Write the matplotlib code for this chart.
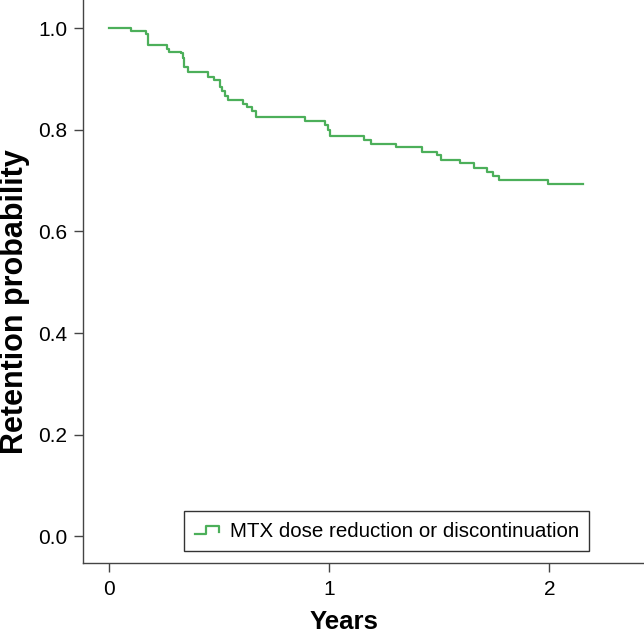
import matplotlib
matplotlib.use("Agg")
import matplotlib.pyplot as plt
from matplotlib.lines import Line2D
from matplotlib.legend_handler import HandlerBase

plt.rcParams['font.family'] = ['Liberation Sans', 'DejaVu Sans']

# Kaplan-Meier step data (years, retention probability)
times = [0.0, 0.099, 0.165, 0.173, 0.261, 0.271, 0.326, 0.334, 0.341, 0.359,
         0.450, 0.476, 0.503, 0.511, 0.526, 0.541, 0.606, 0.625, 0.650, 0.665,
         0.890, 0.980, 0.995, 1.003, 1.155, 1.188, 1.302, 1.419, 1.490, 1.506,
         1.594, 1.655, 1.715, 1.743, 1.770, 1.993, 2.152]
surv = [1.000, 0.995, 0.990, 0.967, 0.959, 0.954, 0.951, 0.941, 0.925, 0.914,
        0.905, 0.899, 0.885, 0.876, 0.866, 0.859, 0.851, 0.845, 0.838, 0.826,
        0.817, 0.810, 0.800, 0.789, 0.780, 0.773, 0.766, 0.757, 0.751, 0.741,
        0.734, 0.726, 0.717, 0.709, 0.701, 0.694, 0.694]
label = "MTX dose reduction or discontinuation"
green = '#4caf5a'


class StepHandler(HandlerBase):
    # small step-shaped legend icon
    def create_artists(self, legend, orig_handle, xdescent, ydescent,
                       width, height, fontsize, trans):
        x0 = -xdescent
        y0 = -ydescent
        xs = [x0, x0 + 0.45 * width, x0 + 0.45 * width, x0 + width, x0 + width]
        ys = [y0 + 0.2 * height, y0 + 0.2 * height, y0 + 0.75 * height,
              y0 + 0.75 * height, y0 + 0.3 * height]
        ln = Line2D(xs, ys, color=green, lw=1.6, transform=trans)
        return [ln]


fig = plt.figure(figsize=(6.44, 6.34), dpi=100)
ax = fig.add_axes([0.129, 0.112, 0.871, 0.888])

line, = ax.step(times, surv, where='post', color=green, lw=1.6)

ax.set_xlim(-0.12, 2.43)
ax.set_ylim(-0.053, 1.056)
ax.set_xticks([0, 1, 2])
ax.set_yticks([0.0, 0.2, 0.4, 0.6, 0.8, 1.0])
ax.set_yticklabels(['0.0', '0.2', '0.4', '0.6', '0.8', '1.0'])

for s in ['top', 'right']:
    ax.spines[s].set_visible(False)
for s in ['left', 'bottom']:
    ax.spines[s].set_color('#444444')
    ax.spines[s].set_linewidth(1.0)
ax.tick_params(direction='out', length=6.5, width=1.0, color='#444444',
               labelsize=15)
ax.tick_params(axis='x', pad=6)
ax.tick_params(axis='y', pad=5)

ax.set_xlabel('Years', fontsize=18.5, fontweight='bold')
ax.set_ylabel('Retention probability', fontsize=22, fontweight='bold')
ax.xaxis.set_label_coords(0.466, -0.084)
ax.yaxis.set_label_coords(-0.094, 0.464)

leg = ax.legend([line], [label], handler_map={line: StepHandler()},
                loc='lower right', fontsize=14.8, frameon=True, fancybox=False,
                edgecolor='black', handlelength=1.2, handletextpad=0.5,
                borderpad=0.5, borderaxespad=0,
                bbox_to_anchor=(0.902, 0.0213))
leg.get_frame().set_linewidth(1.0)

fig.savefig('out.png', dpi=100)
